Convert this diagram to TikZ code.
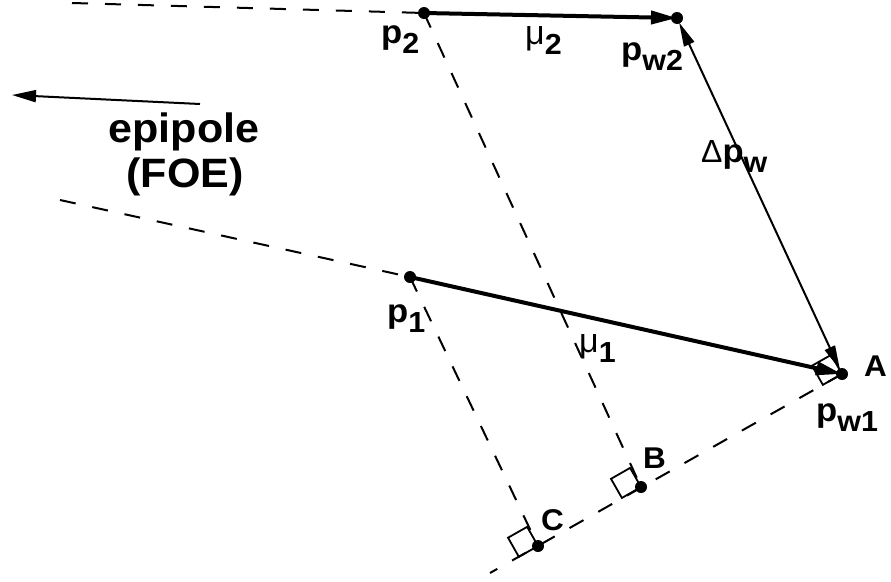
\documentclass[tikz,border=0pt]{standalone}
\usepackage{fontspec}
\setmainfont[FakeStretch=1.05]{Liberation Sans}
\newfontfamily\grkfamily{Liberation Sans}
\usetikzlibrary{calc,arrows.meta}
\newcommand{\lblfont}{\fontsize{33}{33}\selectfont\bfseries}
\newcommand{\capfont}{\fontsize{30}{30}\selectfont\bfseries}
\newcommand{\lowx}[1]{\raisebox{-10pt}{\fontsize{29}{29}\selectfont\bfseries #1}}
\newcommand{\grk}[2]{{\grkfamily\fontsize{#1}{#1}\selectfont\mdseries #2}}
\begin{document}
\begin{tikzpicture}[x=1pt,y=-1pt,
  dot/.style={circle,fill=black,inner sep=0pt,minimum size=12pt},
  dline/.style={line width=2pt,dash pattern=on 16pt off 17pt},
  vec/.style={line width=4pt,-{Triangle[length=26pt,width=13pt]}},
  thinl/.style={line width=2pt},
  sq/.style={line width=1.8pt},
  lbl/.style={anchor=base west,inner sep=0pt,font=\lblfont},
  caplbl/.style={anchor=base west,inner sep=0pt,font=\capfont}
]
\useasboundingbox (0,0) rectangle (891,581);
% points
\node[dot] (p2) at (424,13) {};
\node[dot] (pw2) at (677,18) {};
\node[dot] (p1) at (410,277) {};
\node[dot] (A) at (842,374) {};
\node[dot] (B) at (641,487) {};
\node[dot] (C) at (538,546) {};
\coordinate (topend) at (72,3);
\coordinate (midend) at (60,200);
\coordinate (lowend) at (490,573);
\coordinate (epiS) at (200,104);
\coordinate (epiE) at (12,95);
% dashed lines
\draw[dline] (topend) -- (p2.center);
\draw[dline] (midend) -- (p1.center);
\draw[dline] (p2.center) -- (B.center);
\draw[dline] (p1.center) -- (C.center);
\draw[dline] (A.center) -- (lowend);
% right-angle marks
\coordinate (Au) at ($(A.center)!22pt!(C.center)$);
\coordinate (Av) at ($(A.center)!22pt!-90:(C.center)$);
\draw[sq] (A.center) -- (Au) -- ($(Au)+(Av)-(A.center)$) -- (Av) -- cycle;
\coordinate (Bu) at ($(B.center)!22pt!(C.center)$);
\coordinate (Bv) at ($(B.center)!22pt!-90:(C.center)$);
\draw[sq] (B.center) -- (Bu) -- ($(Bu)+(Bv)-(B.center)$) -- (Bv) -- cycle;
\coordinate (Cu) at ($(C.center)!-22pt!(A.center)$);
\coordinate (Cv) at ($(C.center)!22pt!90:(A.center)$);
\draw[sq] (C.center) -- (Cu) -- ($(Cu)+(Cv)-(C.center)$) -- (Cv) -- cycle;
% vectors
\draw[vec] (p2.center) -- (pw2.center);
\draw[vec] (p1.center) -- (A.center);
\draw[thinl,{Triangle[length=24pt,width=11pt]}-{Triangle[length=24pt,width=11pt]},shorten <=5pt,shorten >=5pt] (pw2.center) -- (A.center);
\draw[thinl,-{Triangle[length=24pt,width=12pt]}] (epiS) -- (epiE);
% labels
\node[lbl] (lp2) at (381,43) {p\lowx{2}};
\node[lbl] (lmu2) at (525,44) {\grk{34}{μ}\lowx{2}};
\node[lbl] (lpw2) at (621,60) {p\lowx{w2}};
\node[lbl] (ldp) at (701,162) {\grk{32}{Δ}p\lowx{w}};
\node[lbl] (lp1) at (387,322) {p\lowx{1}};
\node[lbl] (lmu1) at (579,352) {\grk{34}{μ}\lowx{1}};
\node[caplbl] (lA) at (864,376) {A};
\node[lbl] (lpw1) at (816,421) {p\lowx{w1}};
\node[caplbl] (lB) at (643,468) {B};
\node[caplbl] (lC) at (541,530) {C};
\node[anchor=base,inner sep=0pt,font=\fontsize{41}{41}\selectfont\bfseries] (epi1) at (184,142) {epipole};
\node[anchor=base,inner sep=0pt,font=\fontsize{41}{41}\selectfont\bfseries] (epi2) at (185,187) {(FOE)};
\end{tikzpicture}
\end{document}
